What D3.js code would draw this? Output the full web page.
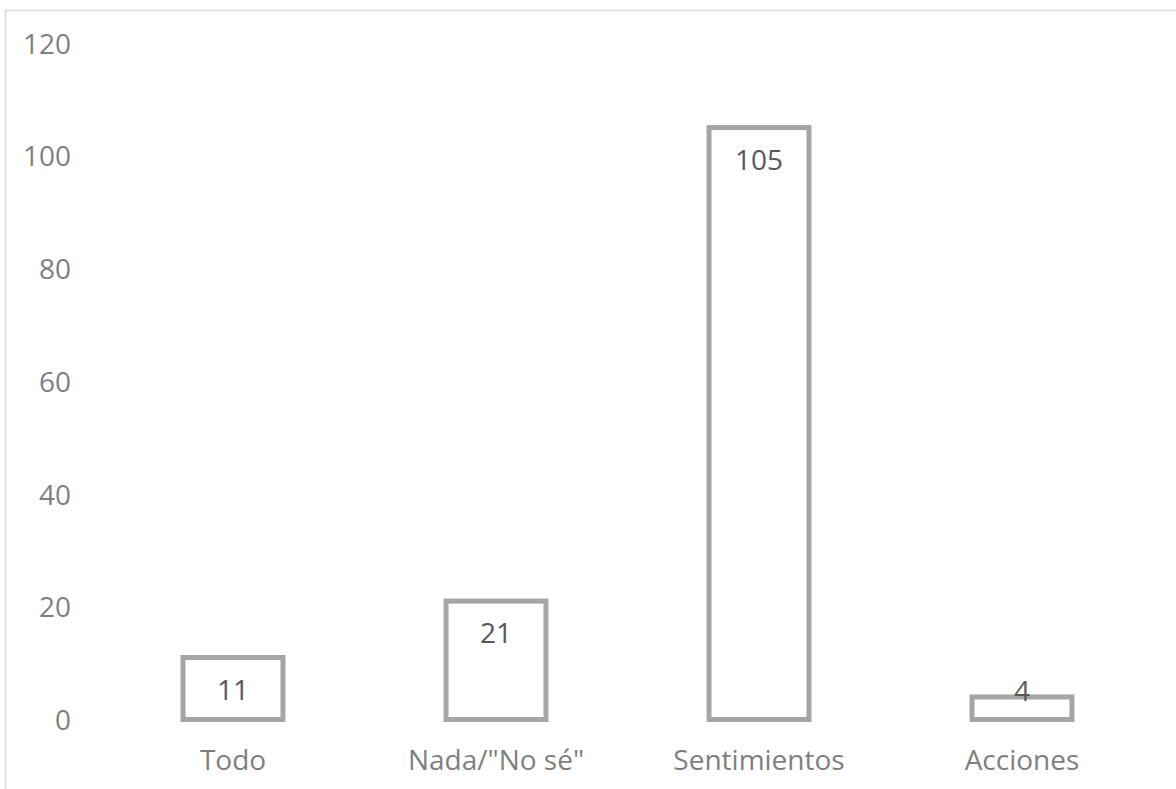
<!DOCTYPE html>
<html>
<head>
<meta charset="utf-8">
<script src="https://cdn.jsdelivr.net/npm/d3@7"></script>
<style>
  body { margin: 0; background: #fff; }
  svg { display: block; font-family: "Open Sans", sans-serif; }
</style>
</head>
<body>
<svg width="1176" height="789"></svg>
<script>
// data
const categories = ["Todo", "Nada/\"No sé\"", "Sentimientos", "Acciones"];
const values = [11, 21, 105, 4];
const yTicks = [0, 20, 40, 60, 80, 100, 120];

const svg = d3.select("svg");

// chart frame (only top and left edges are inside the picture)
svg.append("rect")
  .attr("x", 5.5).attr("y", 10.5)
  .attr("width", 1300).attr("height", 900)
  .attr("fill", "none")
  .attr("stroke", "#d9d9d9")
  .attr("stroke-width", 1.5);

const plotLeft = 101.5, plotRight = 1153.5, plotTop = 43, plotBottom = 719.5;

const x = d3.scaleBand()
  .domain(categories)
  .range([plotLeft, plotRight])
  .paddingInner(0.62)
  .paddingOuter(0.31);

const y = d3.scaleLinear()
  .domain([0, 120])
  .range([plotBottom, plotTop]);

// y axis labels
const yAxis = svg.append("g")
  .attr("transform", `translate(${plotLeft},0)`)
  .call(d3.axisLeft(y).tickValues(yTicks).tickSize(0).tickPadding(30.5));
yAxis.select(".domain").remove();
yAxis.selectAll("text")
  .attr("fill", "#7f7f7f")
  .style("font-size", "28px")
  .style("font-family", "Open Sans")
  .attr("dy", "0.36em");

// category labels
const xAxis = svg.append("g")
  .attr("transform", `translate(0,${plotBottom})`)
  .call(d3.axisBottom(x).tickSize(0).tickPadding(0));
xAxis.select(".domain").remove();
xAxis.selectAll("text")
  .attr("fill", "#7f7f7f")
  .style("font-size", "28px")
  .style("font-family", "Open Sans")
  .attr("dy", null)
  .attr("y", 50.5);

// bars, outline only
svg.append("g").selectAll("rect")
  .data(values)
  .join("rect")
  .attr("x", (d, i) => x(categories[i]))
  .attr("y", d => y(d))
  .attr("width", x.bandwidth())
  .attr("height", d => y(0) - y(d))
  .attr("fill", "#fff")
  .attr("stroke", "#a5a5a5")
  .attr("stroke-width", 5);

// value labels, inside end
svg.append("g").selectAll("text")
  .data(values)
  .join("text")
  .attr("x", (d, i) => x(categories[i]) + x.bandwidth() / 2)
  .attr("y", d => Math.min(y(d) + 32, y(0) - 29))
  .attr("dy", "0.36em")
  .attr("text-anchor", "middle")
  .attr("fill", "#595959")
  .style("font-size", "28px")
  .text(d => d);
</script>
</body>
</html>
